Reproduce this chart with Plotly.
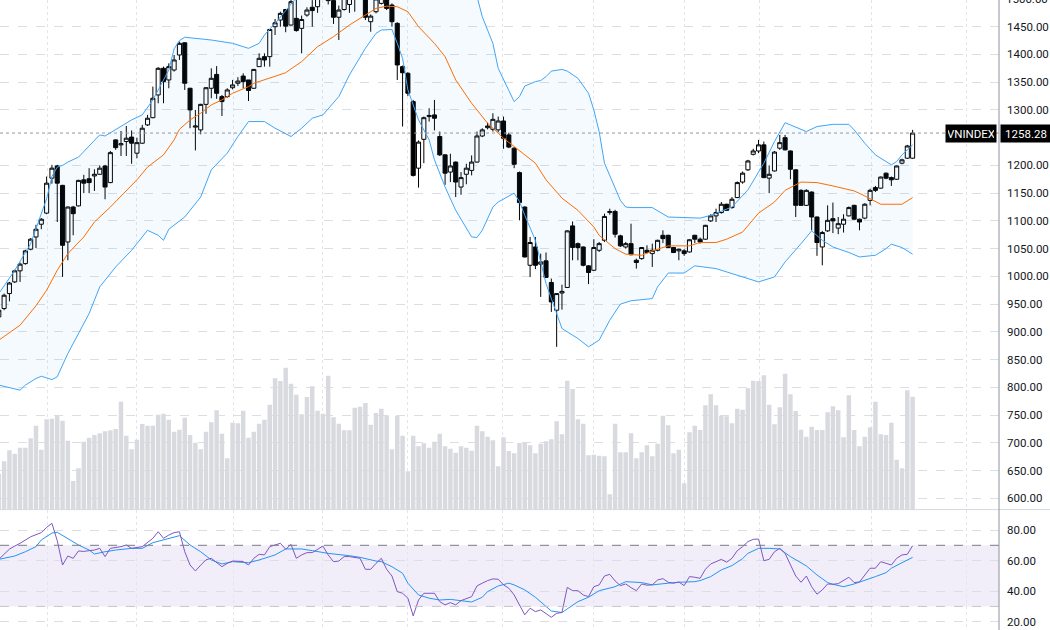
import pandas as pd
import plotly.graph_objects as go
from plotly.subplots import make_subplots

# ---------------- data (weekly VNINDEX) ----------------
START = "2020-11-09"
N_WEEKS = 173

OPEN = [927, 942, 969, 990, 1010, 1023, 1049, 1071, 1094, 1114,
        1177, 1199, 1164, 1062, 1125, 1127, 1174, 1176, 1181, 1184,
        1199, 1169, 1246, 1237, 1243, 1251, 1222, 1240, 1273, 1286,
        1327, 1375, 1354, 1372, 1399, 1421, 1339, 1269, 1264, 1310,
        1339, 1364, 1324, 1324, 1340, 1348, 1361, 1354, 1339, 1378,
        1396, 1396, 1450, 1462, 1481, 1453, 1465, 1447, 1471, 1485,
        1486, 1505, 1527, 1497, 1467, 1481, 1490, 1508, 1503, 1505,
        1459, 1477, 1492, 1505, 1489, 1456, 1378, 1366, 1315, 1195,
        1247, 1288, 1291, 1252, 1219, 1188, 1206, 1161, 1184, 1191,
        1206, 1253, 1268, 1265, 1264, 1280, 1255, 1231, 1187, 1125,
        1020, 1053, 1022, 1028, 989, 939, 970, 980, 1091, 1059,
        1053, 1019, 1011, 1047, 1065, 1115, 1117, 1073, 1053, 1059,
        1029, 1032, 1047, 1041, 1047, 1074, 1074, 1052, 1046, 1046,
        1044, 1074, 1067, 1067, 1100, 1109, 1115, 1130, 1124, 1142,
        1170, 1192, 1220, 1226, 1237, 1177, 1190, 1231, 1250, 1226,
        1192, 1155, 1128, 1152, 1107, 1053, 1082, 1104, 1087, 1094,
        1109, 1128, 1103, 1105, 1137, 1160, 1159, 1186, 1178, 1175,
        1204, 1213, 1213]

HIGH = [942, 969, 990, 1012, 1025, 1048, 1069, 1093, 1105, 1180,
        1201, 1201, 1165, 1126, 1127, 1174, 1183, 1195, 1193, 1200,
        1201, 1226, 1247, 1262, 1271, 1263, 1250, 1273, 1291, 1342,
        1377, 1378, 1384, 1399, 1423, 1422, 1340, 1300, 1311, 1341,
        1375, 1379, 1327, 1339, 1354, 1359, 1366, 1354, 1374, 1402,
        1402, 1446, 1464, 1477, 1482, 1500, 1502, 1470, 1485, 1498,
        1512, 1532, 1530, 1500, 1488, 1512, 1515, 1515, 1518, 1510,
        1472, 1506, 1510, 1524, 1492, 1458, 1380, 1368, 1318, 1245,
        1288, 1303, 1318, 1261, 1220, 1221, 1207, 1188, 1203, 1218,
        1261, 1267, 1277, 1294, 1288, 1288, 1259, 1233, 1189, 1126,
        1071, 1071, 1041, 1043, 996, 970, 985, 1083, 1099, 1061,
        1054, 1020, 1067, 1062, 1113, 1122, 1120, 1075, 1062, 1095,
        1032, 1053, 1056, 1059, 1066, 1083, 1075, 1053, 1050, 1049,
        1067, 1075, 1070, 1093, 1112, 1122, 1134, 1131, 1143, 1171,
        1189, 1210, 1230, 1246, 1243, 1200, 1226, 1255, 1255, 1227,
        1193, 1157, 1157, 1153, 1108, 1082, 1128, 1133, 1107, 1112,
        1126, 1129, 1104, 1132, 1158, 1163, 1180, 1187, 1180, 1200,
        1212, 1237, 1264]

LOW = [924, 939, 955, 988, 990, 1021, 1047, 1051, 1085, 1112,
       1167, 1098, 999, 1029, 1074, 1126, 1150, 1150, 1154, 1183,
       1139, 1168, 1228, 1217, 1217, 1203, 1213, 1239, 1271, 1285,
       1312, 1312, 1339, 1369, 1390, 1336, 1267, 1227, 1256, 1293,
       1321, 1320, 1289, 1322, 1337, 1343, 1339, 1316, 1338, 1378,
       1378, 1378, 1435, 1450, 1440, 1452, 1441, 1402, 1468, 1450,
       1475, 1500, 1490, 1455, 1426, 1479, 1475, 1477, 1499, 1462,
       1441, 1474, 1490, 1480, 1450, 1354, 1270, 1325, 1180, 1160,
       1204, 1279, 1263, 1217, 1165, 1170, 1143, 1147, 1166, 1182,
       1205, 1251, 1265, 1261, 1260, 1230, 1231, 1195, 1101, 1034,
       999, 1013, 963, 997, 936, 873, 940, 979, 1029, 1029,
       1018, 986, 1010, 1044, 1062, 1111, 1070, 1053, 1050, 1038,
       1014, 1030, 1041, 1017, 1045, 1060, 1051, 1042, 1029, 1037,
       1043, 1060, 1059, 1066, 1098, 1098, 1113, 1118, 1122, 1141,
       1167, 1190, 1218, 1222, 1177, 1150, 1189, 1228, 1227, 1175,
       1107, 1127, 1127, 1083, 1037, 1020, 1080, 1078, 1076, 1079,
       1108, 1102, 1083, 1103, 1128, 1152, 1158, 1175, 1163, 1174,
       1202, 1212, 1212]

CLOSE = [939, 966, 988, 1010, 1022, 1046, 1067, 1085, 1103, 1168,
         1195, 1168, 1056, 1125, 1113, 1173, 1168, 1169, 1184, 1195,
         1161, 1223, 1232, 1239, 1249, 1240, 1241, 1267, 1285, 1321,
         1375, 1351, 1378, 1390, 1420, 1348, 1300, 1271, 1310, 1340,
         1357, 1330, 1315, 1336, 1345, 1352, 1351, 1335, 1373, 1393,
         1390, 1445, 1457, 1474, 1451, 1495, 1443, 1463, 1480, 1479,
         1505, 1525, 1497, 1467, 1480, 1506, 1508, 1503, 1510, 1467,
         1469, 1500, 1505, 1483, 1459, 1381, 1367, 1330, 1182, 1242,
         1286, 1290, 1285, 1219, 1186, 1199, 1170, 1178, 1195, 1206,
         1253, 1264, 1271, 1283, 1280, 1249, 1233, 1202, 1133, 1035,
         1061, 1020, 1026, 998, 954, 969, 973, 1082, 1052, 1052,
         1020, 1007, 1052, 1059, 1108, 1117, 1076, 1055, 1059, 1039,
         1025, 1052, 1043, 1047, 1065, 1068, 1052, 1043, 1049, 1041,
         1066, 1067, 1062, 1092, 1109, 1115, 1130, 1119, 1139, 1169,
         1186, 1208, 1226, 1237, 1178, 1184, 1224, 1241, 1228, 1193,
         1128, 1128, 1155, 1107, 1061, 1079, 1101, 1100, 1095, 1103,
         1124, 1103, 1098, 1130, 1155, 1155, 1179, 1177, 1174, 1199,
         1210, 1235, 1258.28]

# weekly volume, millions of shares
VOLUME = [1070, 1440, 1770, 1670, 1850, 1850, 2130, 2510, 1790, 2700,
          2720, 2820, 2660, 2060, 850, 1230, 2030, 2150, 2230, 2280,
          2340, 2370, 2410, 3230, 2210, 1800, 2090, 2560, 2510, 2510,
          2840, 2870, 2690, 2330, 2390, 2750, 2230, 2000, 1800, 2330,
          2610, 2970, 2270, 1530, 2600, 2580, 2960, 2150, 2330, 2570,
          2690, 3140, 3930, 3850, 4250, 3770, 3440, 2850, 3370, 3690,
          2960, 2870, 4010, 2760, 2570, 2370, 2370, 3050, 3080, 3190,
          2540, 2890, 3020, 2820, 1800, 2800, 2210, 1140, 2210, 1890,
          1980, 1850, 2030, 2270, 1890, 1820, 1700, 1890, 1850, 1760,
          2510, 2340, 2180, 2070, 1290, 2160, 1750, 1680, 1990, 2010,
          1920, 1680, 1970, 2040, 2100, 2640, 2250, 3860, 3610, 2700,
          2570, 1620, 1640, 1610, 1590, 450, 2570, 1710, 1710, 2280,
          1530, 1710, 1920, 1590, 1970, 2810, 2520, 1680, 1790, 780,
          2310, 2510, 2380, 3120, 3450, 3120, 2810, 2790, 2580, 3020,
          2990, 3630, 3860, 3850, 4020, 3140, 2550, 3060, 4070, 3450,
          2950, 2390, 2180, 2480, 2380, 2380, 2910, 3090, 2970, 2160,
          3420, 2380, 1890, 2180, 2460, 3230, 2250, 2230, 2600, 1490,
          1230, 3570, 3380]

# Bollinger Bands (20, 2) at week indices
BB_UPPER_IDX = [0, 3, 6, 9, 10, 11, 12, 13, 15, 18, 19, 20, 23, 25, 27, 29, 31, 32, 33, 34,
                35, 40, 44, 47, 49, 50, 52, 54, 55, 56, 58, 61, 64, 66, 69, 72, 74, 76, 78, 80,
                83, 86, 88, 90, 91, 93, 94, 96, 97, 98, 99, 101, 102, 103, 104, 106, 107, 109, 111, 112,
                113, 114, 116, 117, 118, 119, 123, 126, 129, 132, 134, 138, 141, 144, 146, 148, 149, 152, 154, 157,
                160, 161, 163, 165, 168, 169, 170, 172]
BB_UPPER = [969, 1011, 1059, 1140, 1180, 1197, 1200, 1206, 1215, 1246, 1255, 1253, 1270, 1282, 1291, 1318, 1354, 1372, 1410, 1425,
            1431, 1426, 1420, 1411, 1420, 1435, 1456, 1480, 1492, 1502, 1525, 1540, 1556, 1545, 1531, 1528, 1527, 1560, 1610, 1634,
            1615, 1589, 1550, 1505, 1468, 1420, 1375, 1335, 1315, 1324, 1343, 1351, 1353, 1360, 1370, 1373, 1370, 1357, 1330, 1300,
            1261, 1204, 1161, 1137, 1125, 1124, 1124, 1107, 1106, 1105, 1110, 1125, 1156, 1204, 1243, 1277, 1273, 1261, 1270, 1274,
            1274, 1264, 1240, 1219, 1201, 1207, 1219, 1237]

BB_BASIS_IDX = [0, 4, 7, 9, 11, 13, 16, 18, 21, 24, 26, 28, 31, 33, 34, 36, 38, 40, 42, 44,
                47, 48, 50, 52, 54, 55, 57, 60, 63, 66, 69, 71, 73, 75, 77, 79, 82, 84, 86, 89,
                92, 95, 97, 101, 103, 106, 109, 112, 113, 116, 118, 121, 123, 126, 130, 132, 135, 137, 140, 143,
                146, 148, 151, 154, 157, 161, 163, 166, 170, 172]
BB_BASIS = [885, 912, 947, 975, 1011, 1041, 1071, 1098, 1125, 1155, 1174, 1197, 1219, 1246, 1265, 1282, 1294, 1309, 1318, 1330,
            1342, 1348, 1354, 1361, 1367, 1374, 1387, 1414, 1432, 1453, 1471, 1483, 1487, 1486, 1477, 1450, 1420, 1396, 1354, 1312,
            1276, 1249, 1234, 1204, 1174, 1141, 1119, 1089, 1074, 1050, 1040, 1038, 1046, 1055, 1055, 1061, 1061, 1067, 1080, 1114,
            1134, 1155, 1170, 1169, 1163, 1154, 1145, 1130, 1130, 1142]

BB_LOWER_IDX = [0, 4, 5, 7, 8, 10, 11, 13, 17, 19, 22, 25, 28, 30, 31, 32, 35, 38, 40, 43,
                45, 47, 50, 52, 55, 57, 59, 61, 64, 66, 69, 71, 72, 74, 75, 76, 77, 79, 81, 82,
                84, 86, 89, 90, 91, 93, 94, 97, 98, 99, 101, 103, 106, 109, 111, 113, 115, 117, 119, 123,
                124, 126, 129, 131, 135, 138, 143, 146, 148, 151, 153, 155, 157, 160, 162, 165, 167, 168, 170, 172]
BB_LOWER = [804, 795, 804, 816, 820, 814, 819, 861, 933, 981, 1017, 1047, 1083, 1074, 1065, 1085, 1107, 1143, 1192, 1222,
            1252, 1279, 1279, 1267, 1252, 1267, 1285, 1291, 1324, 1363, 1411, 1438, 1444, 1445, 1420, 1393, 1336, 1282, 1246, 1210,
            1161, 1119, 1071, 1070, 1083, 1125, 1134, 1150, 1135, 1110, 1065, 987, 906, 888, 873, 885, 921, 950, 956, 960,
            981, 1006, 1006, 1019, 1014, 1005, 990, 999, 1026, 1059, 1082, 1065, 1053, 1043, 1035, 1038, 1050, 1058, 1052, 1040]

# RSI (14) and its moving average
RSI_IDX = [0, 1, 2, 3, 4, 6, 8, 9, 10, 11, 12, 13, 14, 15, 16, 17, 18, 19, 20, 21,
           23, 24, 25, 27, 28, 29, 30, 31, 32, 33, 34, 35, 36, 37, 38, 39, 40, 42, 43, 44,
           46, 47, 48, 49, 50, 51, 53, 54, 55, 56, 57, 58, 59, 61, 62, 63, 64, 65, 66, 68,
           69, 70, 71, 72, 73, 74, 75, 76, 77, 78, 79, 80, 82, 83, 84, 85, 86, 87, 89, 90,
           91, 92, 93, 94, 95, 96, 97, 98, 99, 100, 101, 102, 103, 104, 105, 106, 107, 108, 109, 110,
           111, 112, 113, 114, 115, 116, 117, 118, 119, 120, 121, 122, 123, 124, 125, 126, 127, 128, 129, 130,
           131, 132, 133, 134, 136, 137, 138, 139, 140, 141, 142, 143, 144, 145, 146, 147, 148, 149, 150, 151,
           152, 153, 154, 155, 156, 157, 158, 160, 161, 162, 164, 165, 166, 167, 168, 169, 170, 171, 172]
RSI = [60.8, 64.0, 67.5, 69.5, 71.3, 75.6, 78.3, 81.7, 84.4, 73.0, 57.1, 63.0, 61.5, 66.3, 66.0, 66.5, 66.9, 68.0, 62.6, 68.0,
       69.1, 70.2, 68.0, 69.1, 71.7, 74.6, 78.9, 74.6, 76.7, 78.3, 78.9, 65.8, 57.1, 53.2, 57.0, 60.5, 61.5, 56.0, 58.2, 59.7,
       59.3, 57.1, 61.5, 64.1, 63.7, 69.1, 71.3, 67.4, 70.6, 61.5, 63.7, 65.2, 65.2, 69.5, 63.7, 59.3, 59.7, 62.6, 62.6, 61.5,
       54.3, 54.3, 58.2, 61.5, 54.3, 49.9, 39.7, 38.6, 35.4, 23.8, 34.2, 38.6, 38.6, 33.1, 31.0, 32.5, 31.0, 33.8, 36.4, 43.4,
       45.2, 46.9, 48.0, 47.8, 44.1, 41.9, 37.5, 31.0, 24.5, 28.8, 26.6, 27.7, 25.5, 22.9, 25.5, 26.0, 42.5, 40.3, 40.3, 37.5,
       36.4, 42.9, 44.1, 49.9, 51.0, 46.7, 43.6, 44.7, 42.3, 40.3, 44.7, 43.9, 44.1, 47.3, 48.2, 45.8, 45.2, 46.0, 43.6, 49.5,
       49.1, 48.4, 54.3, 57.8, 60.8, 58.9, 61.5, 66.5, 69.1, 72.4, 73.9, 74.1, 59.9, 60.8, 65.8, 68.0, 64.7, 57.1, 49.9, 45.8,
       49.9, 42.9, 38.0, 40.8, 44.7, 44.5, 44.9, 49.1, 45.6, 46.0, 55.0, 55.0, 59.3, 58.2, 57.1, 61.5, 63.7, 64.1, 69.7]

RSI_MA_IDX = [0, 3, 5, 7, 8, 10, 11, 13, 15, 17, 18, 20, 22, 25, 27, 29, 32, 34, 36, 38,
              40, 42, 44, 47, 49, 52, 54, 57, 59, 62, 66, 68, 71, 72, 74, 76, 77, 79, 81, 83,
              85, 87, 89, 91, 92, 94, 96, 97, 99, 101, 103, 104, 106, 107, 109, 111, 113, 116, 118, 121,
              123, 126, 128, 131, 132, 134, 136, 138, 140, 141, 143, 145, 147, 149, 150, 152, 154, 156, 157, 159,
              161, 163, 165, 167, 168, 170, 172]
RSI_MA = [60.8, 63.0, 65.8, 69.1, 73.5, 78.0, 78.5, 74.6, 70.2, 66.9, 64.3, 65.8, 66.9, 68.0, 68.0, 71.7, 74.6, 76.3, 70.2, 65.8,
          60.4, 57.8, 59.3, 58.6, 60.4, 63.7, 67.6, 67.6, 66.5, 64.7, 63.2, 62.1, 59.7, 59.3, 56.0, 51.7, 45.2, 37.5, 35.4, 34.2,
          34.6, 33.8, 32.9, 36.0, 39.7, 43.4, 45.2, 44.1, 40.8, 36.0, 30.0, 27.0, 26.0, 28.5, 33.1, 36.0, 40.3, 42.9, 46.2, 45.6,
          44.1, 45.2, 45.8, 46.2, 46.9, 49.5, 53.9, 56.7, 61.3, 64.7, 68.0, 68.0, 67.6, 62.6, 60.4, 56.5, 50.6, 45.6, 44.5, 42.9,
          44.7, 46.9, 49.5, 52.1, 55.0, 58.6, 62.1]

# 1250 is hidden behind the last-price label in the reference
PRICE_TICKS = [600, 650, 700, 750, 800, 850, 900, 950, 1000, 1050, 1100, 1150,
               1200, 1300, 1350, 1400, 1450]
RSI_TICKS = [20, 40, 60, 80]
SYMBOL = "VNINDEX"

# vertical grid positions (in weeks from START)
GRID_WEEK_POS = [9.2, 26.0, 44.2, 61.0, 77.0, 94.9, 112.0, 129.0, 143.1, 164.2, 182.2]

# ---------------- figure ----------------
dates = pd.date_range(START, periods=N_WEEKS, freq="7D")
start = pd.Timestamp(START)
grid_dates = [start + pd.Timedelta(days=7 * w) for w in GRID_WEEK_POS]
x_range = [start + pd.Timedelta(days=7 * 0.226), start + pd.Timedelta(days=7 * 188.26)]

def at(idx):
    return [dates[i] for i in idx]

fig = make_subplots(rows=2, cols=1, shared_xaxes=True, vertical_spacing=0,
                    specs=[[{"secondary_y": True}], [{}]])

# volume (base axis -> drawn underneath)
fig.add_trace(go.Bar(x=dates, y=VOLUME, marker=dict(color="#d9dadf", line_width=0),
                     hoverinfo="skip"), row=1, col=1, secondary_y=False)

band_blue = "#42a5f5"
fig.add_trace(go.Scatter(x=at(BB_UPPER_IDX), y=BB_UPPER, mode="lines",
                         line=dict(color=band_blue, width=1)), row=1, col=1, secondary_y=True)
fig.add_trace(go.Scatter(x=at(BB_LOWER_IDX), y=BB_LOWER, mode="lines",
                         line=dict(color=band_blue, width=1), fill="tonexty",
                         fillcolor="rgba(33,150,243,0.05)"), row=1, col=1, secondary_y=True)
fig.add_trace(go.Scatter(x=at(BB_BASIS_IDX), y=BB_BASIS, mode="lines",
                         line=dict(color="#ff6d00", width=1)), row=1, col=1, secondary_y=True)

fig.add_trace(go.Candlestick(
    x=dates, open=OPEN, high=HIGH, low=LOW, close=CLOSE, whiskerwidth=0,
    increasing=dict(line=dict(color="#000000", width=1), fillcolor="#ffffff"),
    decreasing=dict(line=dict(color="#000000", width=1), fillcolor="#000000"),
), row=1, col=1, secondary_y=True)

fig.add_trace(go.Scatter(x=at(RSI_MA_IDX), y=RSI_MA, mode="lines",
                         line=dict(color="#2196f3", width=1)), row=2, col=1)
fig.add_trace(go.Scatter(x=at(RSI_IDX), y=RSI, mode="lines",
                         line=dict(color="#7e57c2", width=1)), row=2, col=1)

H = 630.0
MAIN_BOTTOM_PX = 509.3
RSI_TOP_PX = 510.0
main_dom = [(H - MAIN_BOTTOM_PX) / H, 1]
rsi_dom = [0, (H - RSI_TOP_PX) / H]

tick_font = dict(family="Roboto, Liberation Sans, sans-serif", size=11.5, color="#131722")
hgrid = dict(showgrid=True, gridcolor="#dcdee4", griddash="dash", gridwidth=1)

fig.update_xaxes(type="date", domain=[0, 1], range=x_range, tickvals=grid_dates,
                 showticklabels=False, ticks="", showgrid=True, gridcolor="#e3e5ea",
                 griddash="dot", gridwidth=1, zeroline=False, showline=False,
                 rangeslider_visible=False, automargin=False)

fig.update_layout(
    width=1050, height=630, margin=dict(l=0, r=51, t=0, b=0, autoexpand=False),
    paper_bgcolor="white", plot_bgcolor="white", showlegend=False, hovermode=False,
    bargap=0.16, boxgap=0.1, boxgroupgap=0.15,
    yaxis=dict(domain=main_dom, range=[0, MAIN_BOTTOM_PX * 30], visible=False, showgrid=False,
               fixedrange=True, automargin=False),
    yaxis2=dict(range=[580.2, 1498.1], side="right", tickvals=PRICE_TICKS, tickformat=".2f",
                ticks="", ticklabelstandoff=7, tickfont=tick_font, zeroline=False,
                showline=False, automargin=False, **hgrid),
    yaxis3=dict(domain=rsi_dom, range=[14.57, 93.1], side="right", tickvals=RSI_TICKS,
                tickformat=".2f", ticks="", ticklabelstandoff=7, tickfont=tick_font,
                zeroline=False, showline=False, automargin=False, **hgrid),
)

# RSI 30-70 band and its bounds
fig.add_shape(type="rect", xref="x2 domain", x0=0, x1=1, yref="y3", y0=30, y1=70,
              fillcolor="rgba(126,87,194,0.1)", line_width=0, layer="below")
fig.add_shape(type="line", xref="x2 domain", x0=0, x1=1, yref="y3", y0=70, y1=70,
              line=dict(color="#787b86", width=1, dash="dash"))
fig.add_shape(type="line", xref="x2 domain", x0=0, x1=1, yref="y3", y0=30, y1=30,
              line=dict(color="#c3c5cc", width=1, dash="dash"))

# last price line
last = CLOSE[-1]
fig.add_shape(type="line", xref="x domain", x0=0, x1=1, yref="y2", y0=last, y1=last,
              line=dict(color="#9598a1", width=1, dash="dot"))

# pane separator and price-scale border
sep_y = (H - MAIN_BOTTOM_PX - 0.3) / H
fig.add_shape(type="line", xref="paper", x0=0, x1=1050 / 999, yref="paper", y0=sep_y, y1=sep_y,
              line=dict(color="#d6d8de", width=1))
fig.add_shape(type="line", xref="paper", x0=1, x1=1, yref="paper", y0=0, y1=1,
              line=dict(color="#8f929b", width=1))

label_font = dict(family="Roboto, Liberation Sans, sans-serif", size=11.5, color="#ffffff")
fig.add_annotation(text=SYMBOL, xref="paper", x=1, xanchor="right", xshift=-2,
                   yref="y2", y=last, yanchor="middle", showarrow=False,
                   bgcolor="#000000", font=label_font, width=46, height=13, borderpad=2)
fig.add_annotation(text=f"{last:.2f}", xref="paper", x=1, xanchor="left", xshift=1,
                   yref="y2", y=last, yanchor="middle", showarrow=False,
                   bgcolor="#000000", font=label_font, width=46, height=13, borderpad=2)
# partially visible top tick label
fig.add_annotation(text="1500.00", xref="paper", x=1, xanchor="left", xshift=5,
                   yref="paper", y=1 + 1.0 / H, yanchor="middle", showarrow=False,
                   font=tick_font)

fig.write_html("out.html")
